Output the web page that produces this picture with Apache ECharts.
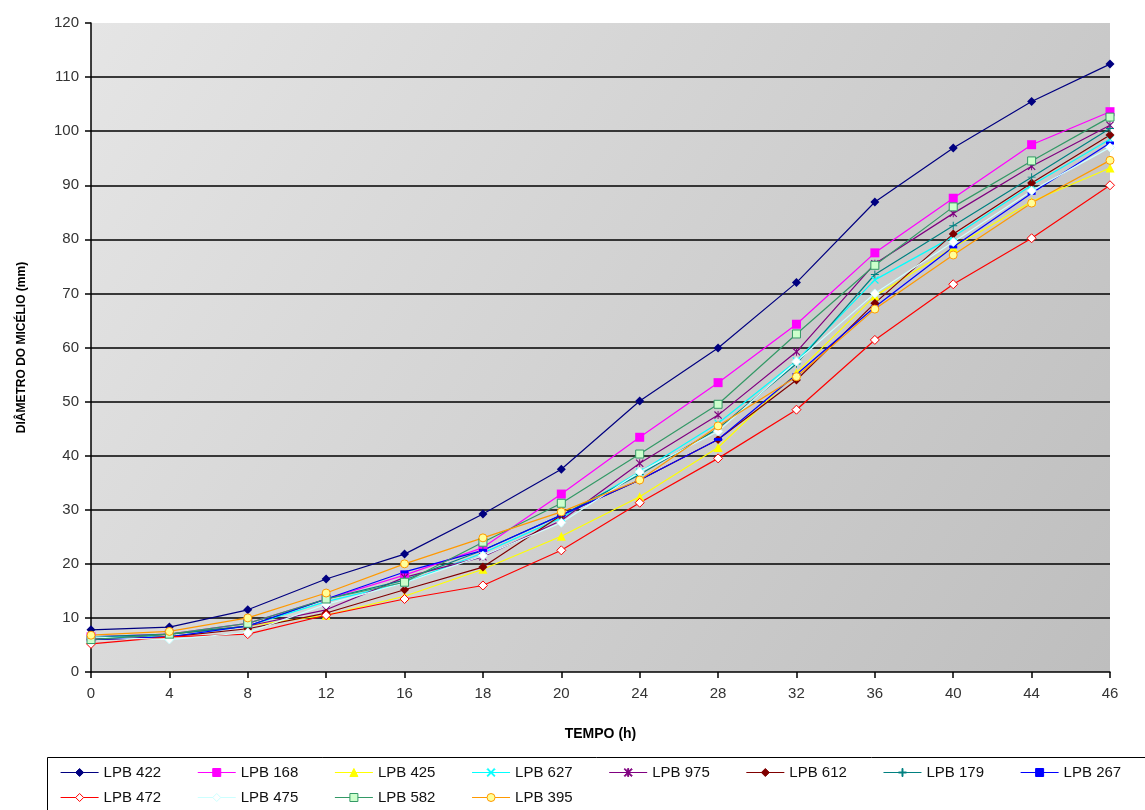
<!DOCTYPE html>
<html>
<head>
<meta charset="utf-8">
<script src="https://cdn.jsdelivr.net/npm/echarts@6/dist/echarts.min.js"></script>
<style>
html,body{margin:0;padding:0;background:#fff;}
#c{width:1145px;height:810px;}
</style>
</head>
<body>
<div id="c"></div>
<script>
const categories = ['0','4','8','12','16','18','20','24','28','32','36','40','44','46'];
const yTicks = [0,10,20,30,40,50,60,70,80,90,100,110,120];

const lpb422 = [7.8, 8.3, 11.5, 17.2, 21.8, 29.2, 37.5, 50.1, 59.9, 72.0, 86.9, 96.9, 105.5, 112.4];
const lpb168 = [6.5, 7.0, 9.0, 13.5, 17.9, 23.0, 32.9, 43.4, 53.5, 64.3, 77.5, 87.6, 97.5, 103.6];
const lpb425 = [6.0, 7.0, 8.5, 10.5, 14.0, 19.0, 25.1, 32.4, 41.5, 55.3, 69.5, 78.5, 87.0, 93.2];
const lpb627 = [6.5, 6.5, 8.5, 13.0, 16.5, 22.0, 28.5, 37.0, 46.0, 57.5, 72.5, 80.5, 90.0, 98.5];
const lpb975 = [6.0, 7.0, 8.5, 11.5, 17.5, 21.3, 28.0, 38.6, 47.5, 59.2, 75.5, 84.8, 93.5, 101.1];
const lpb612 = [6.0, 6.5, 8.0, 10.9, 15.2, 19.4, 29.0, 35.5, 43.0, 54.0, 68.2, 81.0, 90.4, 99.3];
const lpb179 = [6.5, 7.0, 8.5, 13.5, 17.0, 22.5, 29.0, 36.5, 45.0, 57.0, 73.5, 82.5, 91.5, 100.5];
const lpb267 = [6.0, 6.5, 8.5, 13.5, 18.5, 22.5, 29.0, 35.5, 43.0, 55.0, 67.5, 78.6, 88.5, 97.8];
const lpb472 = [5.2, 6.5, 7.0, 10.5, 13.5, 16.0, 22.5, 31.3, 39.5, 48.5, 61.4, 71.7, 80.2, 90.0];
const lpb475 = [6.5, 6.0, 7.3, 12.5, 16.5, 21.5, 27.6, 37.0, 44.5, 57.4, 70.0, 79.5, 89.0, 97.0];
const lpb582 = [6.0, 7.0, 9.0, 13.5, 16.6, 24.0, 31.2, 40.3, 49.5, 62.5, 75.2, 86.0, 94.5, 102.6];
const lpb395 = [6.8, 7.5, 10.0, 14.6, 20.0, 24.8, 29.6, 35.5, 45.5, 54.6, 67.1, 77.1, 86.7, 94.6];

const seriesNames = ['LPB 422','LPB 168','LPB 425','LPB 627','LPB 975','LPB 612','LPB 179','LPB 267','LPB 472','LPB 475','LPB 582','LPB 395'];
const seriesData = [lpb422,lpb168,lpb425,lpb627,lpb975,lpb612,lpb179,lpb267,lpb472,lpb475,lpb582,lpb395];

const XPATH = 'path://M1,0L5,4L9,0L10,1L6,5L10,9L9,10L5,6L1,10L0,9L4,5L0,1Z';
const STARPATH = 'path://M1,0L4.4,3.4L4.4,0L5.6,0L5.6,3.4L9,0L10,1L6,5L10,9L9,10L5.6,6.6L5.6,10L4.4,10L4.4,6.6L1,10L0,9L4,5L0,1Z';
const PLUSPATH = 'path://M4.4,0H5.6V4.4H10V5.6H5.6V10H4.4V5.6H0V4.4H4.4Z';

const styles = [
  {line:'#000080', symbol:'diamond', size:9, fill:'#000080', border:'#000080'},
  {line:'#FF00FF', symbol:'rect', size:9, fill:'#FF00FF', border:'#FF00FF'},
  {line:'#FFFF00', symbol:'triangle', size:9, fill:'#FFFF00', border:'#FFFF00'},
  {line:'#00FFFF', symbol:XPATH, size:8, fill:'#00FFFF', border:'#00FFFF'},
  {line:'#800080', symbol:STARPATH, size:8, fill:'#800080', border:'#800080'},
  {line:'#800000', symbol:'diamond', size:9, fill:'#800000', border:'#800000'},
  {line:'#008080', symbol:PLUSPATH, size:8, fill:'#008080', border:'#008080'},
  {line:'#0000FF', symbol:'rect', size:[8,3], fill:'#0000FF', border:'#0000FF'},
  {line:'#FF0000', symbol:'diamond', size:9, fill:'#FFFFFF', border:'#FF0000', bw:1},
  {line:'#CCFFFF', symbol:'diamond', size:9, fill:'#FFFFFF', border:'#CCFFFF', bw:1},
  {line:'#339966', symbol:'rect', size:8, fill:'#CCFFCC', border:'#339966', bw:1},
  {line:'#FF9900', symbol:'circle', size:8, fill:'#FFFF99', border:'#FF9900', bw:1}
];

const series = seriesNames.map((n,i)=>({
  name:n,
  type:'line',
  data:seriesData[i],
  symbol:styles[i].symbol,
  symbolSize:styles[i].size,
  showAllSymbol:true,
  animation:false,
  lineStyle:{color:styles[i].line, width:1.2},
  itemStyle:{color:styles[i].fill, borderColor:styles[i].border, borderWidth:styles[i].bw||0},
  emphasis:{disabled:true}
}));

const splitColors = yTicks.map((t,i)=> (i===0 || i===yTicks.length-1) ? 'rgba(0,0,0,0)' : '#000');

const legendBase = {
  itemWidth:38, itemHeight:10, itemGap:36,
  padding:0,
  lineStyle:{width:1.2},
  itemStyle:{borderWidth:1},
  textStyle:{fontSize:15, color:'#111', width:64, fontFamily:'Liberation Sans, Arial, sans-serif'},
  selectedMode:false
};

const chart = echarts.init(document.getElementById('c'), null, {renderer:'canvas'});
chart.setOption({
  backgroundColor:'#fff',
  animation:false,
  textStyle:{fontFamily:'Liberation Sans, Arial, sans-serif'},
  grid:{
    left:91, right:35, top:23, bottom:138, containLabel:false, show:true,
    borderWidth:0,
    backgroundColor:new echarts.graphic.LinearGradient(0,0,1,1,[
      {offset:0,color:'#e5e5e5'},{offset:1,color:'#bebebe'}
    ])
  },
  xAxis:{
    type:'category',
    data:categories,
    boundaryGap:false,
    name:'TEMPO (h)',
    nameLocation:'middle',
    nameGap:55,
    nameTextStyle:{fontSize:14, fontWeight:'bold', color:'#000', fontFamily:'Liberation Sans, Arial, sans-serif'},
    axisLine:{lineStyle:{color:'#000', width:1.5}},
    axisTick:{show:true, alignWithLabel:true, length:6, lineStyle:{color:'#000', width:1.5}},
    axisLabel:{fontSize:15, color:'#333', margin:14, interval:0},
    splitLine:{show:false}
  },
  yAxis:{
    type:'value',
    min:0, max:120, interval:10,
    name:'DIÂMETRO DO MICÉLIO (mm)',
    nameLocation:'middle',
    nameRotate:90,
    nameGap:63,
    nameTextStyle:{fontSize:12, fontWeight:'bold', color:'#000', fontFamily:'Liberation Sans, Arial, sans-serif'},
    axisLine:{show:true, lineStyle:{color:'#000', width:1.5}},
    axisTick:{show:true, length:6, lineStyle:{color:'#000', width:1.5}},
    axisLabel:{fontSize:15, color:'#333', margin:12},
    splitLine:{show:true, lineStyle:{color:splitColors, width:1.5}}
  },
  legend:[
    Object.assign({}, legendBase, {data:seriesNames.slice(0,8), left:60, top:765, width:1100}),
    Object.assign({}, legendBase, {data:seriesNames.slice(8), left:60, top:790, width:1100})
  ],
  graphic:[{
    type:'rect', left:47, top:757, z:-1,
    shape:{width:1110, height:60},
    style:{fill:'#fff', stroke:'#000', lineWidth:1}
  }],
  series:series
});
</script>
</body>
</html>
